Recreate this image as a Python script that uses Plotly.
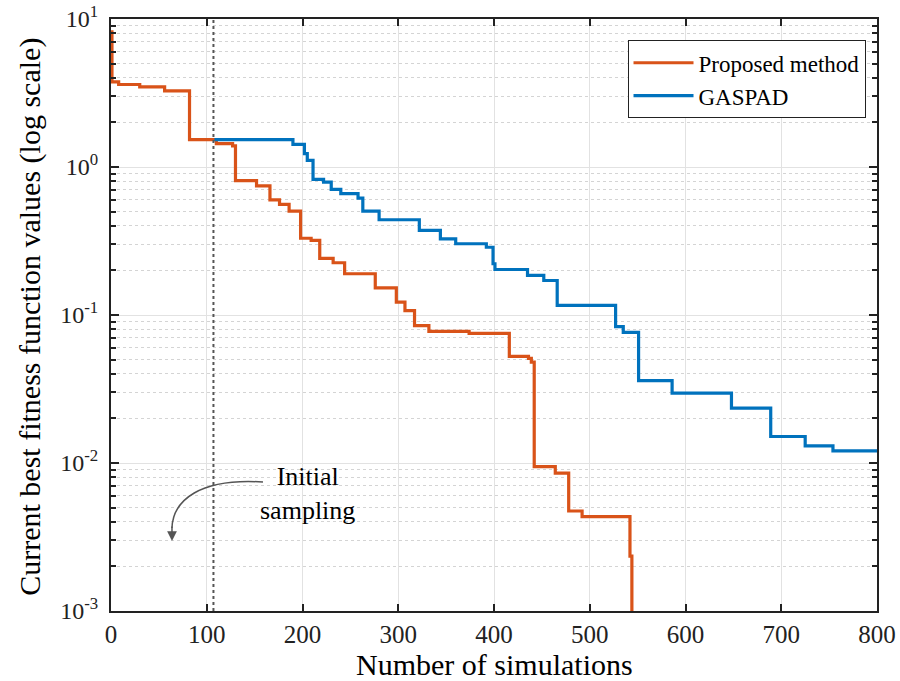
import plotly.graph_objects as go

# Proposed method (step data)
prop_x = [0, 1, 8, 30, 56, 82, 110, 127, 130, 152, 166, 176, 186, 198, 209, 218, 232, 244,
          276, 298, 307, 317, 332, 374, 416, 436, 439, 442, 464, 478, 492, 542, 544]
prop_y = [8.2, 3.76, 3.61, 3.48, 3.27, 1.53, 1.44, 1.39, 0.81, 0.745, 0.60, 0.559, 0.504,
          0.33, 0.319, 0.241, 0.2255, 0.19, 0.1525, 0.122, 0.107, 0.0848, 0.0776, 0.0751,
          0.0525, 0.0509, 0.048, 0.00946, 0.00853, 0.00474, 0.00434, 0.00235, 0.0005]

# GASPAD (step data)
gas_x = [108, 190, 202, 205, 211, 222, 230, 240, 258, 263, 280, 322, 344, 360, 392, 399, 401,
         435, 452, 466, 527, 535, 551, 586, 648, 689, 725, 754, 800]
gas_y = [1.53, 1.42, 1.23, 1.11, 0.825, 0.79, 0.706, 0.660, 0.616, 0.504, 0.44, 0.373, 0.327,
         0.303, 0.287, 0.222, 0.203, 0.185, 0.171, 0.116, 0.0834, 0.0763, 0.036, 0.0297,
         0.0235, 0.0151, 0.01306, 0.01208, 0.0119]

init_x = 107
x_ticks = [0, 100, 200, 300, 400, 500, 600, 700, 800]
y_tickvals = [1e-3, 1e-2, 1e-1, 1e0, 1e1]
y_ticktext = ["10<sup>-3</sup>", "10<sup>-2</sup>", "10<sup>-1</sup>", "10<sup>0</sup>", "10<sup>1</sup>"]

ORANGE = "#D95319"
BLUE = "#0072BD"
FONT = "Liberation Serif"

fig = go.Figure()
fig.add_trace(go.Scatter(x=prop_x, y=prop_y, mode="lines", line_shape="hv",
                         line=dict(color=ORANGE, width=3.2), name="Proposed method"))
fig.add_trace(go.Scatter(x=gas_x, y=gas_y, mode="lines", line_shape="hv",
                         line=dict(color=BLUE, width=3.2), name="GASPAD"))

# initial sampling dashed line
fig.add_shape(type="line", xref="x", yref="paper", x0=init_x, x1=init_x, y0=0, y1=1,
              line=dict(color="#555555", width=2, dash="dot"))

# curved arrow
fig.add_shape(type="path", xref="paper", yref="paper",
              path="M 0.1984 0.2179 C 0.1162 0.2247, 0.0809 0.1875, 0.0796 0.1402",
              line=dict(color="#555555", width=1.5))
fig.add_annotation(xref="paper", yref="paper", x=0.0796, y=0.1182, ax=0, ay=-16,
                   axref="pixel", ayref="pixel", text="", showarrow=True,
                   arrowhead=2, arrowsize=1.3, arrowwidth=1.5, arrowcolor="#555555")
fig.add_annotation(xref="paper", yref="paper", x=0.2559, y=0.198, text="Initial<br>sampling",
                   showarrow=False, font=dict(family=FONT, size=26, color="black"),
                   align="center", xanchor="center", yanchor="middle")

# axis titles as annotations for precise placement
fig.add_annotation(xref="paper", yref="paper", x=0.5, y=-0.0912, text="Number of simulations",
                   showarrow=False, font=dict(family=FONT, size=30, color="black"),
                   xanchor="center", yanchor="middle")
fig.add_annotation(xref="paper", yref="paper", x=-0.1057, y=0.497,
                   text="Current best fitness function values (log scale)", textangle=-90,
                   showarrow=False, font=dict(family=FONT, size=30, color="black"),
                   xanchor="center", yanchor="middle")

fig.update_layout(
    width=900, height=681,
    margin=dict(l=111, r=23, t=19, b=70),
    paper_bgcolor="white", plot_bgcolor="white",
    font=dict(family=FONT, size=24, color="#222"),
    showlegend=True,
    legend=dict(x=0.985, y=0.964, xanchor="right", yanchor="top",
                bgcolor="white", bordercolor="#222", borderwidth=1,
                font=dict(family=FONT, size=23, color="black"),
                tracegroupgap=0, itemwidth=60),
)
fig.update_xaxes(range=[0, 800], tickvals=x_ticks, ticks="inside", ticklen=7, tickwidth=2,
                 tickcolor="#222", showline=True, linecolor="#222", linewidth=2, mirror="ticks",
                 showgrid=True, gridcolor="#e2e2e2", gridwidth=1, zeroline=False,
                 automargin=False, ticklabeloverflow="allow",
                 tickfont=dict(family=FONT, size=25, color="#222"))
fig.update_yaxes(type="log", range=[-3, 1], tickvals=y_tickvals, ticktext=y_ticktext,
                 ticks="inside", ticklen=8, tickwidth=2, tickcolor="#222",
                 showline=True, linecolor="#222", linewidth=2, mirror="ticks",
                 showgrid=True, gridcolor="#e2e2e2", gridwidth=1, zeroline=False,
                 automargin=False, ticklabelstandoff=6, ticklabeloverflow="allow",
                 minor=dict(ticks="inside", ticklen=5, tickwidth=1.5, tickcolor="#222", dtick="D1",
                            showgrid=True, gridcolor="#d4d4d4", griddash="dot", gridwidth=1),
                 tickfont=dict(family=FONT, size=24, color="#222"))

fig.write_html("out.html", post_script="document.body.style.margin='0px';",
               config={"displayModeBar": False})
